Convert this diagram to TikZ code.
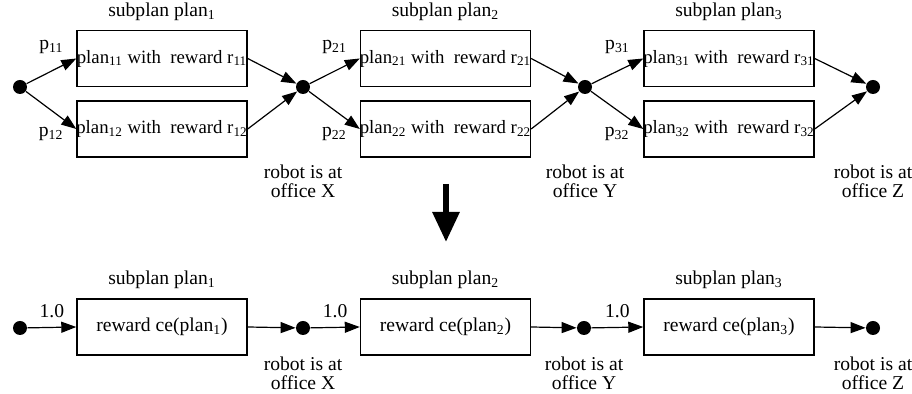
\documentclass[tikz,border=0pt]{standalone}
\usepackage{fontspec}
\setmainfont{Liberation Serif}
\usetikzlibrary{arrows.meta}

\tikzstyle{weight} = [font=\fontsize{9.8pt}{10pt}\selectfont]
\tikzstyle{place} = [align=center,inner sep=0pt,font=\fontsize{9.8pt}{9.4pt}\selectfont]
\tikzstyle{dot} = [circle,fill,inner sep=0pt,minimum size=7pt]
\tikzstyle{planbox} = [draw,line width=0.7pt,rectangle,inner sep=0pt,minimum width=85pt,minimum height=28pt,font=\fontsize{9.8pt}{10pt}\selectfont]
\tikzstyle{subbox} = [planbox,font=\fontsize{9.4pt}{10pt}\selectfont]
\tikzstyle{arrowdecorate} = [-{Triangle[length=7.5pt,width=5.5pt]},line width=0.6pt]
\tikzstyle{bigarrow} = [-{Triangle[length=15pt,width=13pt]},line width=3pt]

\begin{document}
\begin{tikzpicture}[x=0.5pt,y=-0.5pt]
    \useasboundingbox (0,0) rectangle (912,394);
    % upper plan: nodes
    \foreach \nodename/\x in {s/20, x/303, y/585, z/873}
    {
        \node[dot] (\nodename) at (\x,87) {};
    };
    \foreach \i/\x in {1/162, 2/445.5, 3/729}
    {
        \node[weight] (t\i) at (\x,12) {subplan plan\textsubscript{\i}};
        \node[subbox] (b\i1) at (\x,58.5) {\makebox[84pt]{plan\textsubscript{\i1} with\ \ reward r\textsubscript{\i1}}};
        \node[subbox] (b\i2) at (\x,129) {\makebox[84pt]{plan\textsubscript{\i2} with\ \ reward r\textsubscript{\i2}}};
    };
    \foreach \nodename/\letter in {x/X, y/Y, z/Z}
    {
        \node[place] (l\nodename) at (\nodename |- 0,181) {robot is at\\office \letter};
    };
    % upper plan: edges
    \path
    \foreach \startnode/\i in {s/1, x/2, y/3}
    {
        (\startnode) edge[arrowdecorate] node[weight,above=5pt] {p\textsubscript{\i1}} (b\i1.west)
        (\startnode) edge[arrowdecorate] node[weight,below=5pt] {p\textsubscript{\i2}} (b\i2.west)
    };
    \path
    \foreach \i/\endnode in {1/x, 2/y, 3/z}
    {
        (b\i1.east) edge[arrowdecorate] (\endnode)
        (b\i2.east) edge[arrowdecorate] (\endnode)
    };
    % transformation
    \coordinate (from) at (446,184);
    \coordinate (to) at (446,242);
    \draw[bigarrow] (from) -- (to);
    % lower plan: nodes
    \foreach \nodename/\x in {s2/20, x2/303, y2/584, z2/873}
    {
        \node[dot] (\nodename) at (\x,328) {};
    };
    \foreach \i/\x in {1/162, 2/445.5, 3/729}
    {
        \node[weight] (u\i) at (\x,280) {subplan plan\textsubscript{\i}};
        \node[planbox] (c\i) at (\x,327) {reward ce(plan\textsubscript{\i})};
    };
    \foreach \nodename/\letter in {x2/X, y2/Y, z2/Z}
    {
        \node[place] (l\nodename) at (\nodename |- 0,373.5) {robot is at\\office \letter};
    };
    % lower plan: edges
    \path
    \foreach \startnode/\i/\endnode in {s2/1/x2, x2/2/y2, y2/3/z2}
    {
        (\startnode) edge[arrowdecorate] node[weight,above=1pt] {1.0} (c\i.west)
        (c\i.east) edge[arrowdecorate] (\endnode)
    };
\end{tikzpicture}
\end{document}
